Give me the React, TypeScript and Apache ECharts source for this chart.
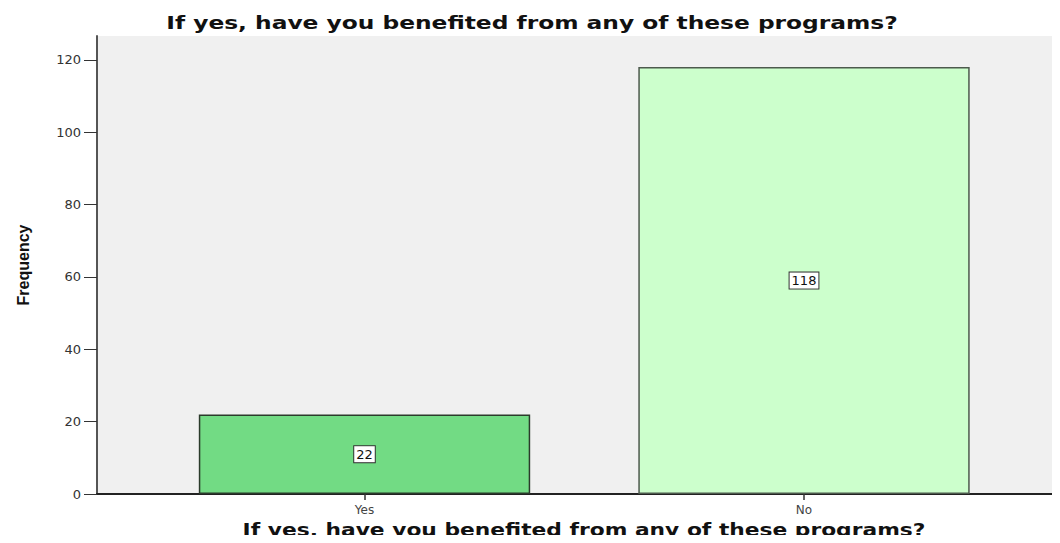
import React, { useEffect, useRef } from "react";
import * as echarts from "echarts";

const categories = ["Yes", "No"];
const frequencies = [22, 118];
const barColors = ["#72DB84", "#CCFFCC"];
const barBorders = ["#2b3a2b", "#4d5a4d"];
const yTicks = [0, 20, 40, 60, 80, 100, 120];
const titleText = "If yes, have you benefited from any of these programs?";
const xAxisTitle = "If yes, have you benefited from any of these programs?";

export default function App() {
  const ref = useRef<HTMLDivElement>(null);
  useEffect(() => {
    const chart = echarts.init(ref.current!, null, { renderer: "svg" });
    const yMax = 126.6;
    chart.setOption({
      animation: false,
      backgroundColor: "#ffffff",
      graphic: [
        {
          type: "text",
          x: 532,
          y: 23,
          scaleX: 1.296,
          style: {
            text: titleText,
            textAlign: "center",
            textVerticalAlign: "middle",
            font: "bold 18px 'DejaVu Sans'",
            fill: "#111",
          },
        },
        {
          type: "text",
          x: 584,
          y: 530,
          scaleX: 1.21,
          style: {
            text: xAxisTitle,
            textAlign: "center",
            textVerticalAlign: "middle",
            font: "bold 18px 'DejaVu Sans'",
            fill: "#111",
          },
        },
      ],
      grid: [
        { left: 97, right: 0, top: 36, bottom: 49, show: true, backgroundColor: "#F0F0F0", borderWidth: 0, outerBoundsMode: "none", containLabel: false },
        { left: 144.75, right: 36.25, top: 36, bottom: 49, outerBoundsMode: "none", containLabel: false },
      ],
      xAxis: [
        {
          gridIndex: 0,
          type: "category",
          data: categories,
          axisLine: { show: true, lineStyle: { color: "#222", width: 2 } },
          axisTick: { show: false },
          axisLabel: { show: false },
        },
        {
          gridIndex: 1,
          type: "category",
          data: categories,
          axisLine: { show: false },
          axisTick: { show: true, alignWithLabel: true, length: 6, lineStyle: { color: "#333", width: 1.5 } },
          axisLabel: { fontFamily: "DejaVu Sans", fontSize: 12, color: "#444", margin: 10 },
        },
      ],
      yAxis: [
        {
          gridIndex: 0,
          type: "value",
          min: 0,
          max: yMax,
          interval: 20,
          axisLine: { show: true, lineStyle: { color: "#555", width: 2 } },
          axisTick: { show: true, length: 13, customValues: yTicks, lineStyle: { color: "#333" } },
          axisLabel: { customValues: yTicks, fontFamily: "DejaVu Sans", fontSize: 13, color: "#333", margin: 16 },
          splitLine: { show: false },
          name: "Frequency",
          nameLocation: "middle",
          nameGap: 66,
          nameTextStyle: { fontFamily: "Liberation Sans Narrow, Liberation Sans, Arial", fontWeight: "bold", fontSize: 16, color: "#111" },
        },
        {
          gridIndex: 1,
          type: "value",
          min: 0,
          max: yMax,
          show: false,
          splitLine: { show: false },
        },
      ],
      series: [
        {
          type: "bar",
          xAxisIndex: 1,
          yAxisIndex: 1,
          barWidth: "75.4%",
          data: frequencies.map((v, i) => ({
            value: v,
            itemStyle: { color: barColors[i], borderColor: barBorders[i], borderWidth: 1.5 },
          })),
          label: {
            show: true,
            position: "inside",
            fontFamily: "DejaVu Sans",
            fontSize: 13,
            color: "#111",
            backgroundColor: "#ffffff",
            borderColor: "#333",
            borderWidth: 1,
            padding: [2, 2, 1, 2],
          },
        },
      ],
    });
    return () => chart.dispose();
  }, []);
  return <div ref={ref} style={{ width: 1060, height: 543, margin: -8 }} />;
}
